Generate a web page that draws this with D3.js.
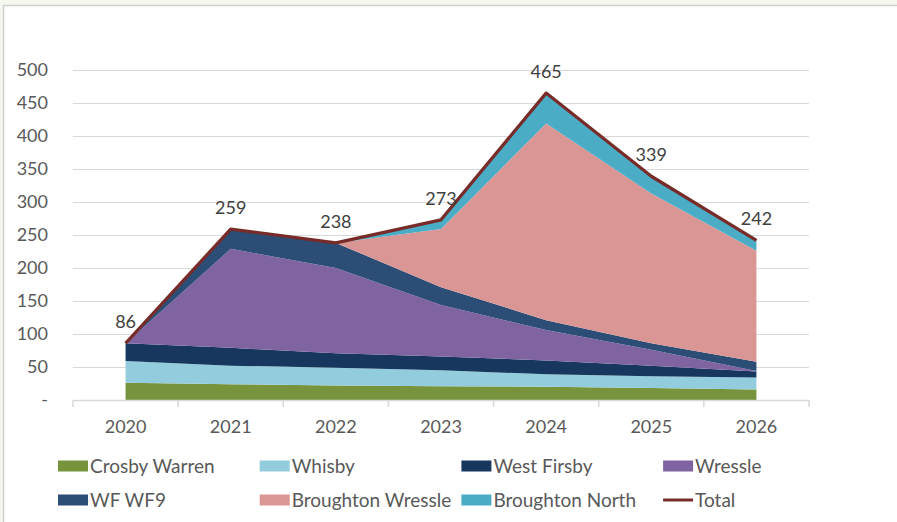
<!DOCTYPE html>
<html><head><meta charset="utf-8">
<script src="https://cdn.jsdelivr.net/npm/d3@7"></script>
<style>
html,body{margin:0;padding:0;background:#f4f8ee;}
svg{display:block;}
text{font-family:Lato,"Open Sans",sans-serif;}
</style></head>
<body>
<svg id="chart" width="897" height="522"></svg>
<script>
const years = ["2020","2021","2022","2023","2024","2025","2026"];
const crosbyWarren     = [26, 24, 22, 21, 20, 18, 16];
const whisby           = [33, 28, 27, 24, 19, 18, 18];
const westFirsby       = [27, 27, 22, 21, 21, 16, 9];
const wressle          = [0, 150, 129, 78, 46, 24, 1];
const wfWF9            = [0, 30, 38, 27, 15, 10, 14];
const broughtonWressle = [0, 0, 0, 88, 298, 227, 168];
const broughtonNorth   = [0, 0, 0, 14, 46, 26, 16];
const total            = [86, 259, 238, 273, 465, 339, 242];
const yTicks = [0, 50, 100, 150, 200, 250, 300, 350, 400, 450, 500];

const seriesNames = ["Crosby Warren","Whisby","West Firsby","Wressle","WF WF9","Broughton Wressle","Broughton North"];
const seriesValues = [crosbyWarren, whisby, westFirsby, wressle, wfWF9, broughtonWressle, broughtonNorth];
const colors = ["#77933c","#93cddd","#17375e","#8064a2","#2c4d75","#d99694","#4bacc6"];
const totalColor = "#772c2a";

const rows = years.map((yr, i) => {
  const r = {year: yr};
  seriesNames.forEach((n, k) => r[n] = seriesValues[k][i]);
  return r;
});

const svg = d3.select("#chart");
svg.append("rect").attr("x", 3.5).attr("y", 5.5).attr("width", 900).attr("height", 520)
  .attr("fill", "#ffffff").attr("stroke", "#cfcfcf").attr("stroke-width", 1.5);

const pLeft = 73, pRight = 809, pTop = 70, pBottom = 400;
const x = d3.scaleBand().domain(years).range([pLeft, pRight]);
const y = d3.scaleLinear().domain([0, 500]).range([pBottom, pTop]);
const cx = d => x(d) + x.bandwidth() / 2;

const grid = svg.append("g").attr("transform", `translate(${pLeft},0)`)
  .call(d3.axisLeft(y).tickValues(yTicks.filter(v => v > 0)).tickSize(-(pRight - pLeft)).tickFormat(""));
grid.select(".domain").remove();
grid.selectAll("line").attr("stroke", "#d9d9d9").attr("stroke-width", 1);

const ya = svg.append("g").attr("transform", `translate(${pLeft},0)`)
  .call(d3.axisLeft(y).tickValues(yTicks).tickSize(0).tickPadding(25).tickFormat(d => d === 0 ? "-" : d));
ya.select(".domain").remove();
ya.selectAll("text").attr("fill", "#595959").style("font-size", "18px").style("font-family", "Lato");

const stacked = d3.stack().keys(seriesNames)(rows);
const area = d3.area()
  .x(d => cx(d.data.year))
  .y0(d => y(d[0]))
  .y1(d => y(d[1]));
svg.append("g").selectAll("path").data(stacked).join("path")
  .attr("d", area).attr("fill", (d, i) => colors[i]);

const xa = svg.append("g").attr("transform", `translate(0,${pBottom})`)
  .call(d3.axisBottom(x).tickSize(0).tickPadding(20));
xa.select(".domain").attr("stroke", "#d9d9d9").attr("stroke-width", 1.5);
xa.selectAll("text").attr("fill", "#595959").style("font-size", "18px").style("font-family", "Lato");
const bounds = years.map(d => x(d)).concat([x(years[years.length - 1]) + x.step()]);
svg.append("g").selectAll("line").data(bounds).join("line")
  .attr("x1", d => d).attr("x2", d => d).attr("y1", pBottom).attr("y2", pBottom + 7)
  .attr("stroke", "#d9d9d9").attr("stroke-width", 1.5);

const line = d3.line().x((d, i) => cx(years[i])).y(d => y(d));
svg.append("path").datum(total).attr("d", line)
  .attr("fill", "none").attr("stroke", totalColor).attr("stroke-width", 3.25).attr("stroke-linejoin", "round");

svg.append("g").selectAll("text").data(total).join("text")
  .attr("x", (d, i) => cx(years[i])).attr("y", d => y(d) - 15)
  .attr("text-anchor", "middle").attr("fill", "#404040").style("font-size", "18px")
  .text(d => d);

const legendItems = seriesNames.map((n, i) => ({name: n, color: colors[i], type: "area"}))
  .concat([{name: "Total", color: totalColor, type: "line"}]);
const lg = svg.append("g");
legendItems.forEach((it, i) => {
  const col = i % 4, row = Math.floor(i / 4);
  const gx = 58 + col * 201.7, gy = 466 + row * 34;
  const g = lg.append("g").attr("transform", `translate(${gx},${gy})`);
  if (it.type === "area") {
    g.append("rect").attr("x", 0).attr("y", -5.5).attr("width", 30).attr("height", 11).attr("fill", it.color);
  } else {
    g.append("line").attr("x1", 0).attr("x2", 30).attr("y1", 0).attr("y2", 0)
      .attr("stroke", it.color).attr("stroke-width", 3);
  }
  g.append("text").attr("x", 32).attr("y", 0).attr("dy", "0.35em")
    .attr("fill", "#595959").style("font-size", "19px").text(it.name);
});
</script>
</body></html>
